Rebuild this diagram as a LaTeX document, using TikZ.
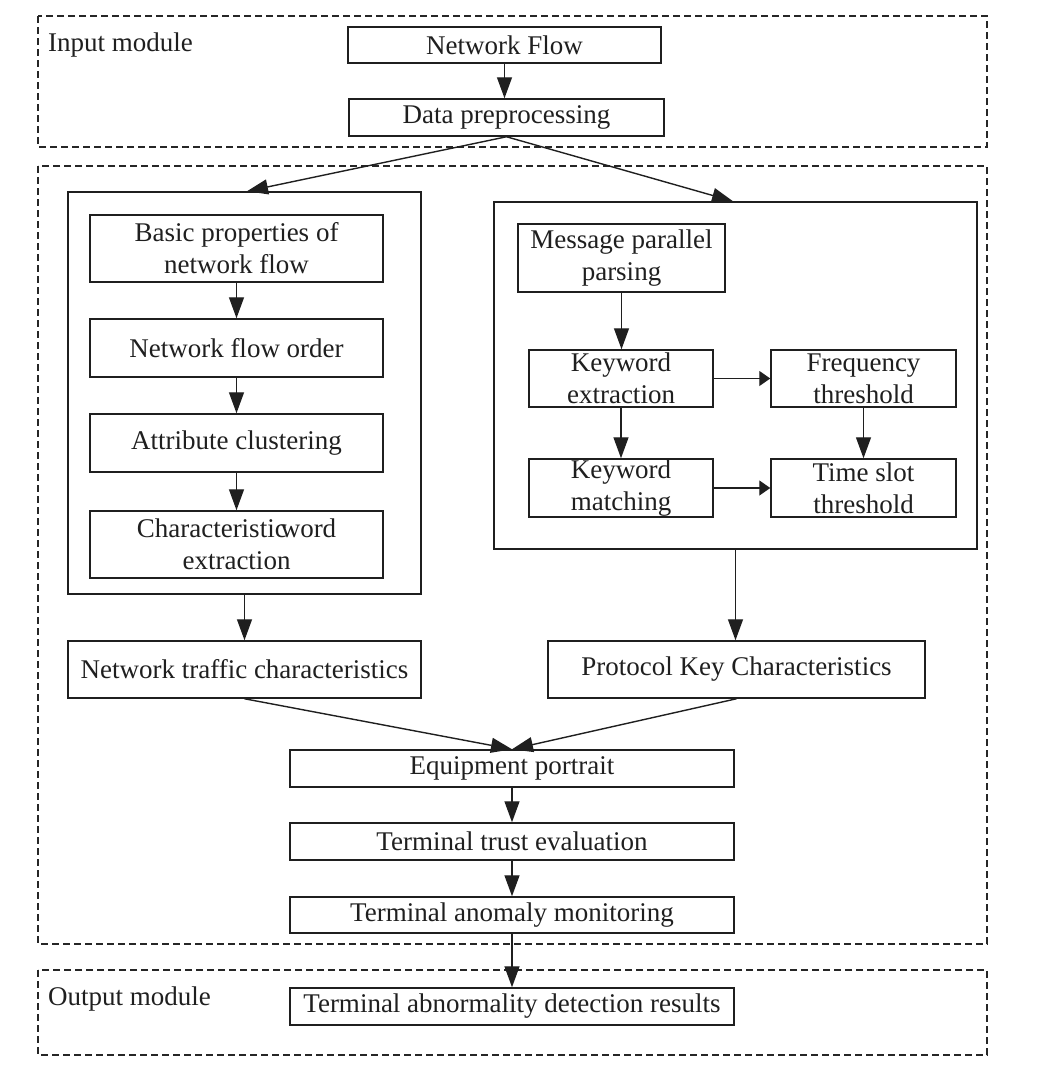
\documentclass[tikz,border=0pt]{standalone}
\usepackage{fontspec}
\setmainfont{Liberation Serif}
\usetikzlibrary{arrows.meta,calc}
\begin{document}
\begin{tikzpicture}[x=1pt,y=-1pt,
  every node/.style={font=\fontsize{27}{32}\selectfont, text=black!88},
  box/.style={draw=black!88, line width=1.5pt, rectangle, inner sep=0pt, align=center},
  frame/.style={draw=black!85, line width=1.6pt, dash pattern=on 7pt off 4pt},
  lab/.style={anchor=base west, inner sep=0pt},
  arr/.style={draw=black!88, line width=1.4pt, -{Triangle[length=21pt,width=15pt]}},
  sarr/.style={draw=black!88, line width=1.4pt, -{Triangle[length=11pt,width=15pt]}}
]
\useasboundingbox (0,0) rectangle (1042,1068);
% dashed module frames
\draw[frame] (38,16) rectangle (987,147);
\draw[frame] (38,166) rectangle (987,944);
\draw[frame] (38,970) rectangle (987,1055);
\node[lab] (inlab) at (48,51) {Input module};
\node[lab] (outlab) at (48,1005) {Output module};
% input module
\node[box, minimum width=313pt, minimum height=36pt] (nf) at (504.5,45) {Network Flow};
\node[box, minimum width=315pt, minimum height=37pt] (dp) at (506.5,117.5) {Data preprocessing};
% left container
\node[box, minimum width=353pt, minimum height=402pt] (lb) at (244.5,393) {};
\node[box, minimum width=293pt, minimum height=67pt] (bp) at (236.5,248.5) {Basic properties of\\network flow};
\node[box, minimum width=293pt, minimum height=58pt] (nfo) at (236.5,348) {Network flow order};
\node[box, minimum width=293pt, minimum height=58pt] (ac) at (236.5,443) {Attribute clustering};
\node[box, minimum width=293pt, minimum height=67pt] (cw) at (236.5,544.5) {Characteristic\hspace{-6pt}word\\extraction};
% right container
\node[box, minimum width=483pt, minimum height=347pt] (rb) at (735.5,375.5) {};
\node[box, minimum width=207pt, minimum height=68pt] (mp) at (621.5,258) {Message parallel\\parsing};
\node[box, minimum width=184pt, minimum height=57pt] (ke) at (621,378.5) {Keyword\\extraction};
\node[box, minimum width=185pt, minimum height=57pt] (ft) at (863.5,378.5) {Frequency\\threshold};
\node[box, minimum width=184pt, minimum height=58pt] (km) at (621,488) {Keyword\\matching};
\node[box, minimum width=185pt, minimum height=58pt] (ts) at (863.5,488) {Time slot\\threshold};
% characteristics
\node[box, minimum width=353pt, minimum height=57pt] (ntc) at (244.5,669.5) {Network traffic characteristics};
\node[box, minimum width=377pt, minimum height=57pt] (pkc) at (736.5,669.5) {Protocol Key Characteristics};
% lower chain
\node[box, minimum width=444pt, minimum height=37pt] (ep) at (512,768.5) {Equipment portrait};
\node[box, minimum width=444pt, minimum height=37pt] (tte) at (512,841.5) {Terminal trust evaluation};
\node[box, minimum width=444pt, minimum height=36pt] (tam) at (512,915) {Terminal anomaly monitoring};
\node[box, minimum width=444pt, minimum height=37pt] (tad) at (512,1006.5) {Terminal abnormality detection results};
% connectors
\draw[arr] (nf.south) -- (nf.south |- dp.north);
\draw[arr] (dp.south) -- ($(lb.north)+(2.5,0)$);
\draw[arr] (dp.south) -- ($(rb.north)+(-2.5,0)$);
\draw[arr] (bp) -- (nfo);
\draw[arr] (nfo) -- (ac);
\draw[arr] (ac) -- (cw);
\draw[arr] (lb.south) -- (ntc.north);
\draw[arr] (mp.south) -- (mp.south |- ke.north);
\draw[sarr] (ke.east) -- (ft.west);
\draw[arr] (ke) -- (km);
\draw[arr] (ft) -- (ts);
\draw[sarr] (km.east) -- (ts.west);
\draw[arr] (rb.south) -- (rb.south |- pkc.north);
\draw[arr] (ntc.south) -- (ep.north);
\draw[arr] (pkc.south) -- (ep.north);
\draw[arr] (ep) -- (tte);
\draw[arr] (tte) -- (tam);
\draw[arr] (tam) -- (tad);
\end{tikzpicture}
\end{document}
